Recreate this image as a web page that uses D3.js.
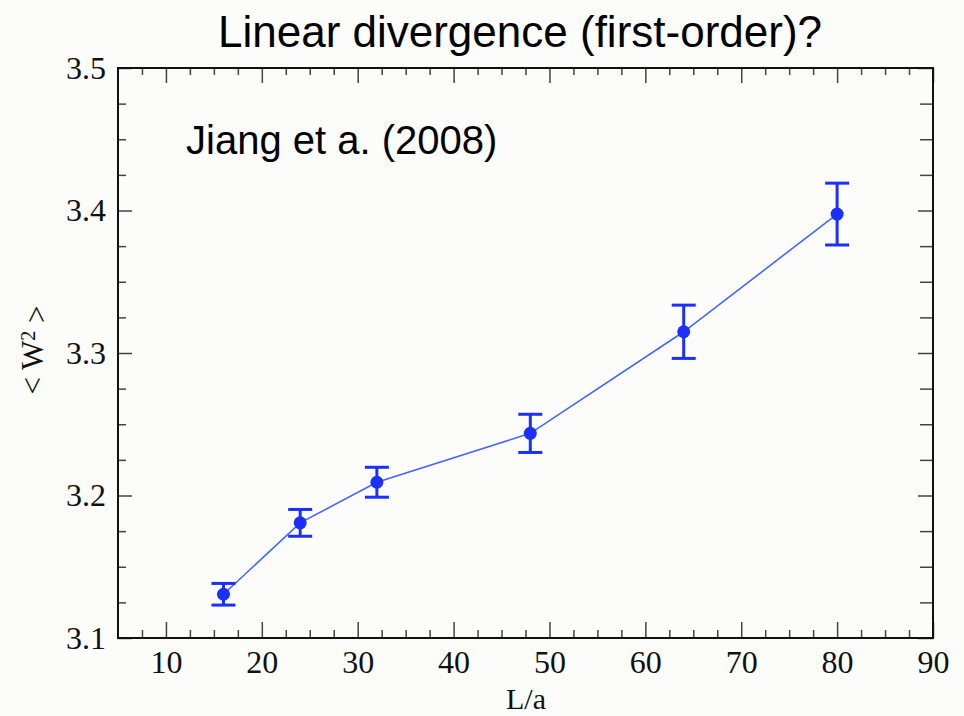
<!DOCTYPE html>
<html>
<head>
<meta charset="utf-8">
<script src="https://cdn.jsdelivr.net/npm/d3@7"></script>
<style>
  html, body { margin: 0; padding: 0; background: #fcfcfa; }
  svg { display: block; }
</style>
</head>
<body>
<svg id="chart" width="964" height="716"></svg>
<script>
// data
const sizes = [16, 24, 32, 48, 64, 80];
const w2 = [3.1307, 3.1808, 3.2093, 3.2436, 3.3149, 3.3975];
const w2Err = [0.0076, 0.0094, 0.0105, 0.0134, 0.0187, 0.0217];

const xMajor = [10, 20, 30, 40, 50, 60, 70, 80, 90];
const yMajor = [3.1, 3.2, 3.3, 3.4, 3.5];

const titleText = "Linear divergence (first-order)?";
const noteText = "Jiang et a. (2008)";

const svg = d3.select("#chart");
const width = 964, height = 716;
const margin = { top: 68, right: 31, bottom: 78, left: 118 };
const innerWidth = width - margin.left - margin.right;
const innerHeight = height - margin.top - margin.bottom;

const serif = "'Liberation Serif', 'Times New Roman', serif";
const sans = "'Liberation Sans', Arial, Helvetica, sans-serif";
const markColor = "#1b30ff";
const lineColor = "#4865ff";

svg.append("rect")
    .attr("width", width)
    .attr("height", height)
    .attr("fill", "#fcfcfa");

const g = svg.append("g").attr("transform", `translate(${margin.left},${margin.top})`);

const x = d3.scaleLinear().domain([5, 90]).range([0, innerWidth]);
const y = d3.scaleLinear().domain([3.1, 3.5]).range([innerHeight, 0]);

const xMinor = d3.range(5, 90.01, 2.5).filter(v => !xMajor.includes(v) && v > 5 && v < 90);
const yMinor = d3.range(3.1, 3.5001, 0.025).map(v => +v.toFixed(3)).filter(v => !yMajor.some(m => Math.abs(m - v) < 1e-6));

function styleAxis(sel) {
    sel.select(".domain").remove();
    sel.selectAll(".tick line").attr("stroke", "#444").attr("stroke-width", 1.5);
}

// bottom axis with labels
g.append("g")
    .attr("transform", `translate(0,${innerHeight})`)
    .call(d3.axisBottom(x).tickValues(xMajor).tickSize(-16).tickPadding(12).tickFormat(d3.format("d")))
    .call(styleAxis)
    .selectAll("text")
    .style("font-family", serif)
    .style("font-size", "32px")
    .attr("fill", "#111");

g.append("g")
    .attr("transform", `translate(0,${innerHeight})`)
    .call(d3.axisBottom(x).tickValues(xMinor).tickSize(-8).tickFormat(""))
    .call(styleAxis);

// top axis (ticks only)
g.append("g")
    .call(d3.axisTop(x).tickValues(xMajor).tickSize(-15).tickFormat(""))
    .call(styleAxis);
g.append("g")
    .call(d3.axisTop(x).tickValues(xMinor).tickSize(-7).tickFormat(""))
    .call(styleAxis);

// left axis with labels
g.append("g")
    .call(d3.axisLeft(y).tickValues(yMajor).tickSize(-14).tickPadding(12).tickFormat(d3.format(".1f")))
    .call(styleAxis)
    .selectAll("text")
    .style("font-family", serif)
    .style("font-size", "32px")
    .attr("fill", "#111");
g.append("g")
    .call(d3.axisLeft(y).tickValues(yMinor).tickSize(-8).tickFormat(""))
    .call(styleAxis);

// right axis (ticks only)
g.append("g")
    .attr("transform", `translate(${innerWidth},0)`)
    .call(d3.axisRight(y).tickValues(yMajor).tickSize(-15).tickFormat(""))
    .call(styleAxis);
g.append("g")
    .attr("transform", `translate(${innerWidth},0)`)
    .call(d3.axisRight(y).tickValues(yMinor).tickSize(-13).tickFormat(""))
    .call(styleAxis);

// frame
g.append("rect")
    .attr("width", innerWidth)
    .attr("height", innerHeight)
    .attr("fill", "none")
    .attr("stroke", "#111")
    .attr("stroke-width", 2);

const points = sizes.map((s, i) => ({ x: s, y: w2[i], e: w2Err[i] }));

// connecting line
g.append("path")
    .datum(points)
    .attr("fill", "none")
    .attr("stroke", lineColor)
    .attr("stroke-width", 1.6)
    .attr("d", d3.line().x(d => x(d.x)).y(d => y(d.y)));

// error bars
const capHalf = 12;
const bars = g.selectAll(".err")
    .data(points)
    .join("g")
    .attr("class", "err")
    .attr("stroke", markColor)
    .attr("stroke-width", 3);

bars.append("line")
    .attr("x1", d => x(d.x)).attr("x2", d => x(d.x))
    .attr("y1", d => y(d.y + d.e)).attr("y2", d => y(d.y - d.e));
bars.append("line")
    .attr("x1", d => x(d.x) - capHalf).attr("x2", d => x(d.x) + capHalf)
    .attr("y1", d => y(d.y + d.e)).attr("y2", d => y(d.y + d.e));
bars.append("line")
    .attr("x1", d => x(d.x) - capHalf).attr("x2", d => x(d.x) + capHalf)
    .attr("y1", d => y(d.y - d.e)).attr("y2", d => y(d.y - d.e));

g.selectAll(".dot")
    .data(points)
    .join("circle")
    .attr("class", "dot")
    .attr("cx", d => x(d.x))
    .attr("cy", d => y(d.y))
    .attr("r", 6.5)
    .attr("fill", markColor);

// axis titles
svg.append("text")
    .attr("x", 526)
    .attr("y", 709)
    .attr("text-anchor", "middle")
    .style("font-family", serif)
    .style("font-size", "30px")
    .attr("fill", "#111")
    .text("L/a");

const yLab = svg.append("text")
    .attr("transform", "translate(43,350) rotate(-90)")
    .attr("text-anchor", "middle")
    .style("font-family", serif)
    .style("font-size", "31px")
    .attr("fill", "#111");
yLab.append("tspan").text("< W");
yLab.append("tspan").attr("dy", "-0.4em").style("font-size", "20px").text("2");
yLab.append("tspan").attr("dy", "0.4em").text(" >");

// title and note
svg.append("text")
    .attr("x", 520)
    .attr("y", 47)
    .attr("text-anchor", "middle")
    .style("font-family", sans)
    .style("font-size", "44px")
    .attr("fill", "#000")
    .text(titleText);

svg.append("text")
    .attr("x", 186)
    .attr("y", 154)
    .style("font-family", sans)
    .style("font-size", "40px")
    .attr("fill", "#000")
    .text(noteText);
</script>
</body>
</html>
